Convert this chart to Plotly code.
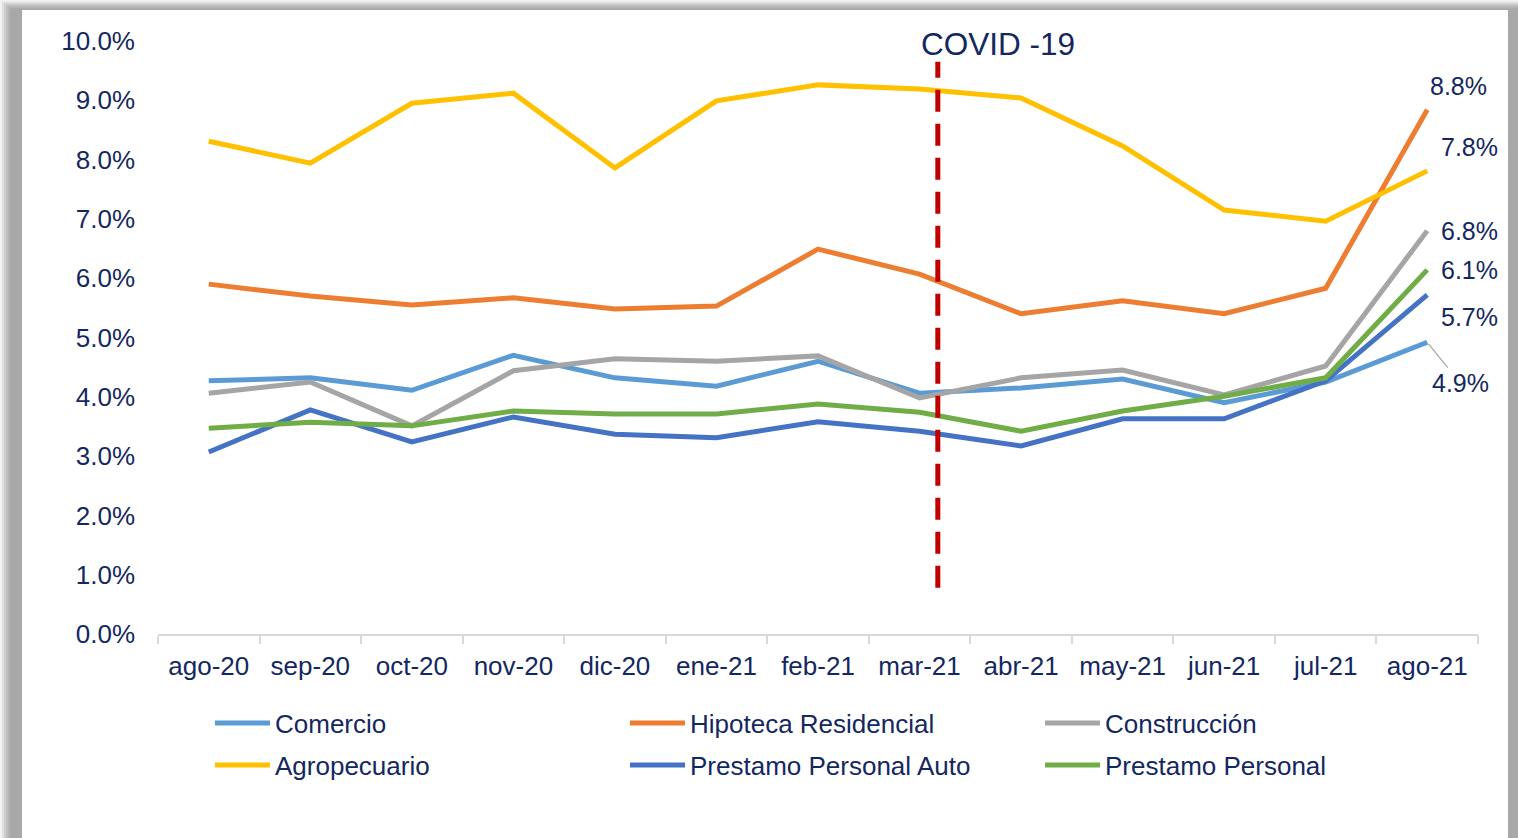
import plotly.graph_objects as go

meses = ["ago-20", "sep-20", "oct-20", "nov-20", "dic-20", "ene-21", "feb-21",
         "mar-21", "abr-21", "may-21", "jun-21", "jul-21", "ago-21"]

comercio = [4.27, 4.32, 4.11, 4.70, 4.32, 4.18, 4.60, 4.06, 4.15, 4.30, 3.90, 4.25, 4.92]
hipoteca = [5.90, 5.70, 5.55, 5.67, 5.48, 5.53, 6.49, 6.07, 5.40, 5.62, 5.40, 5.83, 8.84]
construccion = [4.06, 4.25, 3.51, 4.44, 4.64, 4.60, 4.69, 3.98, 4.32, 4.45, 4.03, 4.52, 6.80]
agropecuario = [8.31, 7.94, 8.95, 9.12, 7.86, 8.99, 9.26, 9.19, 9.04, 8.23, 7.15, 6.96, 7.81]
auto = [3.07, 3.78, 3.24, 3.66, 3.37, 3.31, 3.58, 3.42, 3.17, 3.63, 3.63, 4.27, 5.72]
personal = [3.47, 3.57, 3.51, 3.76, 3.71, 3.71, 3.88, 3.74, 3.42, 3.76, 4.01, 4.32, 6.14]

series = [
    ("Comercio", comercio, "#5b9bd5"),
    ("Hipoteca Residencial", hipoteca, "#ed7d31"),
    ("Construcción", construccion, "#a5a5a5"),
    ("Agropecuario", agropecuario, "#ffc000"),
    ("Prestamo Personal Auto", auto, "#4472c4"),
    ("Prestamo Personal", personal, "#70ad47"),
]

covid_pos = 7.18  # un poco despues de mar-21
navy = "#14285f"
font = "Liberation Sans, Arial, sans-serif"

# plot area in pixels (1518 x 838 page)
W, H = 1518, 838
L, R, T, B = 158, 40, 41, 204
pw, ph = W - L - R, H - T - B


def px(x):
    return (x - L) / pw


def py(y):
    return (H - B - y) / ph


fig = go.Figure()

for i, (name, vals, color) in enumerate(series):
    fig.add_trace(go.Scatter(x=meses, y=vals, name=name, mode="lines",
                             legend="legend" if i < 3 else "legend2",
                             line=dict(color=color, width=5)))

# labels at last point
offsets = {"Hipoteca Residencial": (31, -24), "Agropecuario": (42, -24),
           "Construcción": (42, 0), "Prestamo Personal": (42, 0),
           "Prestamo Personal Auto": (42, 22), "Comercio": (33, 41)}
for name, vals, color in series:
    dx, dy = offsets[name]
    if name == "Comercio":
        fig.add_annotation(x=meses[-1], y=vals[-1], text=f"{vals[-1]:.1f}%",
                           showarrow=True, arrowhead=0, arrowwidth=1.2, arrowcolor="#a5a5a5",
                           ax=dx, ay=dy, standoff=2,
                           font=dict(size=25, color=navy, family=font))
    else:
        fig.add_annotation(x=meses[-1], y=vals[-1], text=f"{vals[-1]:.1f}%",
                           showarrow=False, xshift=dx, yshift=-dy,
                           font=dict(size=25, color=navy, family=font))

# COVID line
fig.add_shape(type="line", xref="x", yref="y", x0=covid_pos, x1=covid_pos, y0=0.78, y1=9.65,
              line=dict(color="#c00000", width=5, dash="22px,12px"))
fig.add_annotation(x=covid_pos, y=9.95, xref="x", yref="y", text="COVID -19", showarrow=False,
                   xanchor="left", xshift=-19, yanchor="middle",
                   font=dict(size=31.5, color=navy, family=font))

# frame shadow
shade = ["#f2f2f2", "#e0e0e0", "#cfcfcf", "#bfbfbf", "#b3b3b3", "#a8a8a8"]
for i, c in enumerate(shade):
    fig.add_shape(type="rect", xref="paper", yref="paper", layer="below",
                  x0=px(2 * i), x1=px(W), y0=py(H), y1=py(i * 10 / 6),
                  fillcolor=c, line_width=0)
fig.add_shape(type="rect", xref="paper", yref="paper", layer="below",
              x0=px(22), x1=px(1508), y0=py(H), y1=py(10), fillcolor="white", line_width=0)

legend_style = dict(orientation="h", xanchor="left", yanchor="middle",
                    entrywidth=345, entrywidthmode="pixels", itemwidth=55,
                    font=dict(size=26, color=navy, family=font),
                    bgcolor="rgba(0,0,0,0)")

fig.update_layout(
    width=W, height=H,
    margin=dict(l=L, r=R, t=T, b=B),
    paper_bgcolor="white", plot_bgcolor="rgba(0,0,0,0)",
    font=dict(family=font, color=navy, size=26),
    showlegend=True,
    legend=dict(x=px(210), y=py(723), **legend_style),
    legend2=dict(x=px(210), y=py(765), **legend_style),
    xaxis=dict(type="category", showgrid=False, showline=True, linecolor="#d9d9d9",
               linewidth=2, ticks="outside", tickson="boundaries", ticklen=8,
               tickcolor="#d9d9d9", tickwidth=2, tickfont=dict(size=26, color=navy),
               ticklabelstandoff=8, range=[-0.5, 12.5], fixedrange=True),
    yaxis=dict(range=[0, 10], dtick=1, showgrid=False, zeroline=False, showline=False,
               ticksuffix="%", tickformat=".1f", tickfont=dict(size=26, color=navy),
               ticklabelstandoff=22, fixedrange=True),
)

fig.write_html("out.html", config={"displayModeBar": False},
               post_script="document.body.style.margin='0';")
